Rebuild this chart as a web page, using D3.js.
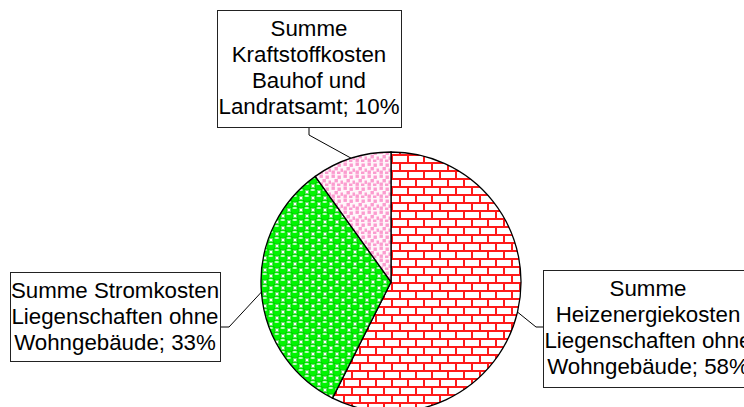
<!DOCTYPE html>
<html>
<head>
<meta charset="utf-8">
<script src="https://cdn.jsdelivr.net/npm/d3@7"></script>
<style>
  body { margin: 0; background: #fff; }
  .chart { width: 744px; height: 407px; overflow: hidden; }
</style>
</head>
<body>
<div class="chart"></div>
<script>
// slices, clockwise from 12 o'clock
var categories = ["Heizenergie", "Strom", "Kraftstoff"];
var values = [58, 33, 10];
var labels = [
  ["Summe", "Heizenergiekosten", "Liegenschaften ohne", "Wohngebäude; 58%"],
  ["Summe Stromkosten", "Liegenschaften ohne", "Wohngebäude; 33%"],
  ["Summe", "Kraftstoffkosten", "Bauhof und", "Landratsamt; 10%"]
];

var width = 744, height = 407;
var cx = 391, cy = 282, radius = 130;

var svg = d3.select(".chart").append("svg")
  .attr("width", width)
  .attr("height", height);

var defs = svg.append("defs");

// red brick pattern
var brick = defs.append("pattern")
  .attr("id", "brick")
  .attr("patternUnits", "userSpaceOnUse")
  .attr("width", 16).attr("height", 16);
brick.append("rect").attr("width", 16).attr("height", 16).attr("fill", "#fff");
brick.append("path")
  .attr("d", "M0,1H16M0,9H16M1,1V9M9,9V17")
  .attr("stroke", "#ff1a1a")
  .attr("stroke-width", 2)
  .attr("fill", "none");

// green spheres
var sph = defs.append("pattern")
  .attr("id", "spheres")
  .attr("patternUnits", "userSpaceOnUse")
  .attr("width", 12).attr("height", 12);
sph.append("rect").attr("width", 12).attr("height", 12).attr("fill", "#00e800");
[[6, 0], [0, 6], [12, 6], [6, 12]].forEach(function(p) {
  sph.append("rect")
    .attr("x", p[0] - 2).attr("y", p[1] - 2)
    .attr("width", 4).attr("height", 4)
    .attr("fill", "#fff");
});
[[6, 6], [0, 0], [12, 0], [0, 12], [12, 12]].forEach(function(p) {
  sph.append("circle")
    .attr("cx", p[0]).attr("cy", p[1]).attr("r", 4.3)
    .attr("fill", "#00f500")
    .attr("stroke", "#00bb00")
    .attr("stroke-width", 0.7);
  sph.append("ellipse")
    .attr("cx", p[0] - 0.3).attr("cy", p[1] - 2)
    .attr("rx", 2.3).attr("ry", 1)
    .attr("fill", "#c0ffc0");
});

// pink dotted
var dots = defs.append("pattern")
  .attr("id", "dots")
  .attr("patternUnits", "userSpaceOnUse")
  .attr("width", 12).attr("height", 12);
dots.append("rect").attr("width", 12).attr("height", 12).attr("fill", "#fff6fa");
[[0.5, 0.5], [6.5, 1.5], [3.5, 5], [9.5, 6.5], [0.5, 8.5], [6, 9.5]].forEach(function(p) {
  dots.append("rect")
    .attr("x", p[0]).attr("y", p[1])
    .attr("width", 3.4).attr("height", 3.4)
    .attr("fill", "#fb9ccf");
});

var fills = ["url(#brick)", "url(#spheres)", "url(#dots)"];

var pie = d3.pie().sort(null).value(function(d) { return d; });
var arcs = pie(values);
var arc = d3.arc().innerRadius(0).outerRadius(radius);

var g = svg.append("g").attr("transform", "translate(" + cx + "," + cy + ")");
g.selectAll("path")
  .data(arcs)
  .enter().append("path")
  .attr("d", arc)
  .attr("fill", function(d, i) { return fills[i]; })
  .attr("stroke", "#000")
  .attr("stroke-width", 1.3);

// label boxes (x, y, w, h) and elbow start/knee points
var boxes = [
  { x: 543, y: 270, w: 210, h: 117, start: [543, 327], knee: [536, 327] },
  { x: 10,  y: 272, w: 210, h: 89,  start: [220, 327], knee: [229, 327] },
  { x: 217, y: 10,  w: 184, h: 117, start: [309, 127], knee: [309, 135] }
];

arcs.forEach(function(d, i) {
  var b = boxes[i];
  var mid = (d.startAngle + d.endAngle) / 2;
  var px = cx + Math.sin(mid) * radius;
  var py = cy - Math.cos(mid) * radius;

  svg.append("path")
    .attr("d", d3.line()([b.start, b.knee, [px, py]]))
    .attr("fill", "none")
    .attr("stroke", "#000")
    .attr("stroke-width", 1);

  svg.append("rect")
    .attr("x", b.x + 0.5).attr("y", b.y + 0.5)
    .attr("width", b.w).attr("height", b.h)
    .attr("fill", "#fff")
    .attr("stroke", "#222")
    .attr("stroke-width", 1);

  svg.append("text")
    .style("font-family", "'Liberation Sans', Arial, sans-serif")
    .style("font-size", "22.3px")
    .attr("fill", "#000")
    .attr("text-anchor", "middle")
    .selectAll("tspan")
    .data(labels[i])
    .enter().append("tspan")
    .attr("x", b.x + b.w / 2)
    .attr("y", function(t, j) { return b.y + 25.5 + j * 26.3; })
    .text(function(t) { return t; });
});
</script>
</body>
</html>
